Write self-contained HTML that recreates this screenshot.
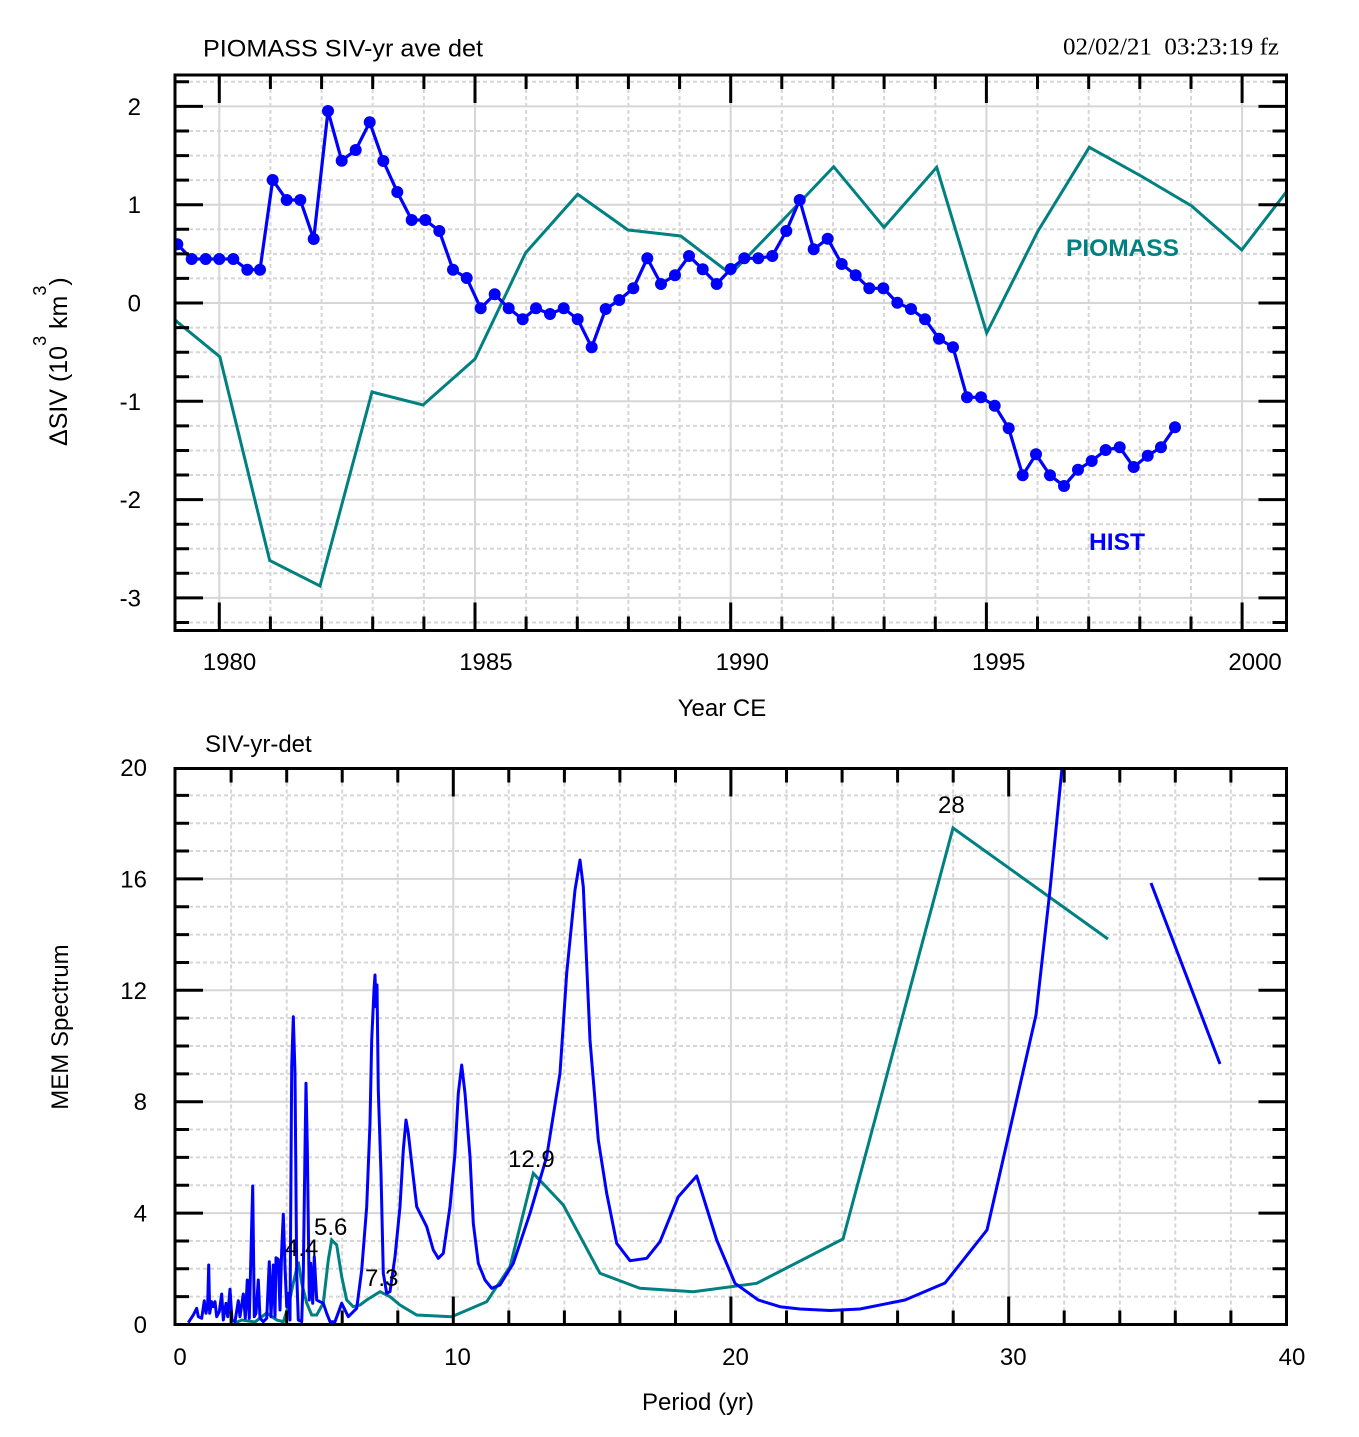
<!DOCTYPE html>
<html><head><meta charset="utf-8"><style>
html,body{margin:0;padding:0;background:#fff;}
svg{display:block;}
text{font-family:"Liberation Sans",Arial,Helvetica,sans-serif;font-size:24px;fill:#000;}
.g{stroke:#d6d6d6;stroke-width:2;fill:none;}
.gd{stroke:#d6d6d6;stroke-width:2;fill:none;stroke-dasharray:4 3;}
.tk{stroke:#000;stroke-width:3;fill:none;}
</style></head><body>
<svg width="1359" height="1437" viewBox="0 0 1359 1437" xmlns="http://www.w3.org/2000/svg">
<defs>
<clipPath id="c1"><rect x="175" y="75" width="1111.5" height="555.5"/></clipPath>
<clipPath id="c2"><rect x="175" y="768.5" width="1111.5" height="556"/></clipPath>
<marker id="dot" markerWidth="14" markerHeight="14" refX="7" refY="7" markerUnits="userSpaceOnUse"><circle cx="7" cy="7" r="6" fill="#0000ff"/></marker>
</defs>
<rect width="1359" height="1437" fill="#fff"/>

<!-- ============ TOP PLOT ============ -->
<path class="gd" d="M270.4 75V630.5M321.6 75V630.5M372.7 75V630.5M423.9 75V630.5M526.1 75V630.5M577.3 75V630.5M628.4 75V630.5M679.6 75V630.5M781.8 75V630.5M833 75V630.5M884.1 75V630.5M935.3 75V630.5M1037.5 75V630.5M1088.7 75V630.5M1139.8 75V630.5M1191 75V630.5
M175 81.8H1286.5M175 131H1286.5M175 155.6H1286.5M175 180.1H1286.5M175 229.3H1286.5M175 253.9H1286.5M175 278.4H1286.5M175 327.6H1286.5M175 352.2H1286.5M175 376.7H1286.5M175 425.9H1286.5M175 450.5H1286.5M175 475H1286.5M175 524.2H1286.5M175 548.8H1286.5M175 573.3H1286.5M175 622.5H1286.5"/>
<path class="g" d="M219.3 75V630.5M475 75V630.5M730.7 75V630.5M986.4 75V630.5M1242.1 75V630.5
M175 106.4H1286.5M175 204.7H1286.5M175 303H1286.5M175 401.3H1286.5M175 499.6H1286.5M175 597.9H1286.5"/>

<g clip-path="url(#c1)">
<polyline fill="none" stroke="#008080" stroke-width="3" stroke-linejoin="miter" points="175,320 219.8,356.7 269.7,560.5 320,586 372,392 423,405 475,359 525.5,253 577.7,194.3 628,230 680.7,236 730.7,274 782,221 833.7,166.7 884,227.3 936.7,167.3 986.7,333 1038,231 1089.3,147.3 1141,176 1191.7,206 1241.7,250 1286.5,191.7"/>
<polyline fill="none" stroke="#0000ff" stroke-width="3.2" marker-start="url(#dot)" marker-mid="url(#dot)" marker-end="url(#dot)" points="177.3,244.3 191.7,259 205.7,259 219.3,259 233.3,259 247.3,269.7 260,269.7 272.7,180 286.7,200 300.3,200 313.7,239 328,111 341.7,160.7 355.7,150 369.7,122.3 383.3,161 397.3,192 411.7,220 425.3,220 439.3,231 453,269.7 466.7,278 480.7,308.3 494.7,294.3 508.7,308.3 522.7,319.3 536,308.3 550,314 563.7,308.3 577.7,319.3 591.7,347.3 605.7,309 619.3,300 633.3,288.3 647.3,258.3 661,284 675,275.3 689,256 702.7,269.3 716.7,284 730.7,269 744.3,258.3 758.3,258.3 772.3,256 786.3,231 799.7,200 813.7,249.3 827.7,238.7 841.7,264 855.7,275.3 869.3,288.3 883.3,288.3 897.3,302.7 911,309 925,319.3 939,338.7 953,347.3 967,397.3 981,397.3 994.7,405.7 1008.7,428.3 1022.7,475.3 1036,454.3 1050,475.3 1064,486 1078,469.7 1091.7,461 1105.7,450 1119.7,447.3 1133.7,467 1147.7,455.7 1161,447.3 1175,427.3"/>
</g>

<rect x="175" y="75" width="1111.5" height="555.5" fill="none" stroke="#000" stroke-width="3"/>
<path class="tk" d="M175 106.4h28M175 204.7h28M175 303h28M175 401.3h28M175 499.6h28M175 597.9h28
M175 81.8h14M175 131h14M175 155.6h14M175 180.1h14M175 229.3h14M175 253.9h14M175 278.4h14M175 327.6h14M175 352.2h14M175 376.7h14M175 425.9h14M175 450.5h14M175 475h14M175 524.2h14M175 548.8h14M175 573.3h14M175 622.5h14
M1286.5 106.4h-28M1286.5 204.7h-28M1286.5 303h-28M1286.5 401.3h-28M1286.5 499.6h-28M1286.5 597.9h-28
M1286.5 81.8h-14M1286.5 131h-14M1286.5 155.6h-14M1286.5 180.1h-14M1286.5 229.3h-14M1286.5 253.9h-14M1286.5 278.4h-14M1286.5 327.6h-14M1286.5 352.2h-14M1286.5 376.7h-14M1286.5 425.9h-14M1286.5 450.5h-14M1286.5 475h-14M1286.5 524.2h-14M1286.5 548.8h-14M1286.5 573.3h-14M1286.5 622.5h-14
M219.3 75v28M475 75v28M730.7 75v28M986.4 75v28M1242.1 75v28
M270.4 75v14M321.6 75v14M372.7 75v14M423.9 75v14M526.1 75v14M577.3 75v14M628.4 75v14M679.6 75v14M781.8 75v14M833 75v14M884.1 75v14M935.3 75v14M1037.5 75v14M1088.7 75v14M1139.8 75v14M1191 75v14
M219.3 630.5v-28M475 630.5v-28M730.7 630.5v-28M986.4 630.5v-28M1242.1 630.5v-28
M270.4 630.5v-14M321.6 630.5v-14M372.7 630.5v-14M423.9 630.5v-14M526.1 630.5v-14M577.3 630.5v-14M628.4 630.5v-14M679.6 630.5v-14M781.8 630.5v-14M833 630.5v-14M884.1 630.5v-14M935.3 630.5v-14M1037.5 630.5v-14M1088.7 630.5v-14M1139.8 630.5v-14M1191 630.5v-14"/>

<text x="203" y="56.5" textLength="280" lengthAdjust="spacingAndGlyphs">PIOMASS SIV-yr ave det</text>
<text x="1063" y="54.5" textLength="216" lengthAdjust="spacingAndGlyphs" style="font-family:'Liberation Serif','Times New Roman',serif;white-space:pre">02/02/21  03:23:19 fz</text>
<g text-anchor="end">
<text x="141" y="114.9">2</text>
<text x="141" y="213.2">1</text>
<text x="141" y="311.5">0</text>
<text x="141" y="409.8">-1</text>
<text x="141" y="508.1">-2</text>
<text x="141" y="606.4">-3</text>
</g>
<g text-anchor="middle">
<text x="229.5" y="670">1980</text>
<text x="485.9" y="670">1985</text>
<text x="742.3" y="670">1990</text>
<text x="998.7" y="670">1995</text>
<text x="1255.1" y="670">2000</text>
<text x="722" y="716">Year CE</text>
</g>
<text transform="translate(67,446) rotate(-90)" style="font-size:25px">ΔSIV (10<tspan dy="-21" style="font-size:18px">3</tspan><tspan dy="21"> km</tspan><tspan dy="-21" style="font-size:18px">3</tspan><tspan dy="21">)</tspan></text>
<text x="1066" y="256" textLength="113" lengthAdjust="spacingAndGlyphs" style="font-weight:bold;fill:#008080">PIOMASS</text>
<text x="1089" y="550" textLength="56" lengthAdjust="spacingAndGlyphs" style="font-weight:bold;fill:#0000ff">HIST</text>

<!-- ============ BOTTOM PLOT ============ -->
<path class="gd" d="M231.1 768.5V1324.5M286.7 768.5V1324.5M342.2 768.5V1324.5M397.8 768.5V1324.5M508.8 768.5V1324.5M564.4 768.5V1324.5M619.9 768.5V1324.5M675.5 768.5V1324.5M786.5 768.5V1324.5M842.1 768.5V1324.5M897.6 768.5V1324.5M953.2 768.5V1324.5M1064.2 768.5V1324.5M1119.8 768.5V1324.5M1175.3 768.5V1324.5M1230.9 768.5V1324.5
M175 1296.65H1286.5M175 1268.8H1286.5M175 1240.95H1286.5M175 1185.25H1286.5M175 1157.4H1286.5M175 1129.55H1286.5M175 1073.85H1286.5M175 1046H1286.5M175 1018.15H1286.5M175 962.45H1286.5M175 934.6H1286.5M175 906.75H1286.5M175 851.05H1286.5M175 823.2H1286.5M175 795.35H1286.5"/>
<path class="g" d="M453.3 768.5V1324.5M730.9 768.5V1324.5M1008.7 768.5V1324.5
M175 1213.1H1286.5M175 1101.7H1286.5M175 990.3H1286.5M175 878.9H1286.5"/>

<g clip-path="url(#c2)">
<polyline fill="none" stroke="#008080" stroke-width="3" points="235,1323 241.7,1320 255,1322 266.7,1313 276.7,1320 283.3,1321.7 288.3,1306.7 293.3,1283 298.3,1261.7 301.7,1283 306.7,1303 311.7,1315 316.7,1315 323.3,1303 328.3,1260 331.7,1240 336.7,1245 341.7,1276.7 346.7,1300 353.3,1306.7 360,1305 366.7,1300 380,1291.7 390,1296.7 400,1305 416.7,1315 451.7,1316.7 486.7,1301.7 510,1266.7 533.3,1173.3 563.3,1205 600,1273.3 640,1288.3 693.3,1291.7 756.7,1283.3 843,1239 953,828 1108,939"/>
<polyline fill="none" stroke="#0000ff" stroke-width="3" stroke-linejoin="round" points="188.3,1322.7 190,1320 193.3,1315 196.7,1308.3 198.3,1316.7 201.7,1318.3 204.3,1300.7 206,1313.3 207.7,1303.3 208.7,1265 209.7,1313.3 211.7,1301.7 213.3,1306.7 215,1301.7 216.7,1316.7 219.3,1311.7 221.7,1294 223.3,1320 226,1303.3 227.7,1316.7 230,1289.3 232,1320 235,1321.7 238.3,1300.7 240,1316.7 243.3,1294 245.3,1318.3 247.3,1280 249.3,1318.3 252.7,1186 254.3,1316.7 256,1313.3 258.3,1280 260,1318.3 263.3,1321.7 266.7,1318.3 269.3,1261.7 271,1316.7 273.3,1265 275,1316.7 276,1257.7 278.3,1259.3 280,1310 281.7,1250 283.3,1214.3 285,1266.7 286.7,1306.7 288.3,1293.3 290,1320 291.7,1066.7 293.3,1016.7 295,1073.3 296.7,1273.3 298.3,1320 301.7,1321.7 303.3,1273.3 305,1150 306,1083.3 307.3,1146.7 309.3,1300 310.7,1263.3 312.7,1303.3 314.3,1256.7 316.7,1300 320,1301.7 323.3,1303.3 326.7,1313.3 330,1321.7 335,1321.7 341.7,1303.3 348.3,1316.7 356.7,1308.3 361.7,1270 366.7,1206.7 370,1123.3 371.7,1040 374,990 375,975 376,1006.7 377,985 378.3,1090 381,1173 383.3,1273.3 386.7,1293.3 390,1291.7 395,1256.7 400,1206.7 403.3,1150 406,1120 408.3,1133.3 411.7,1163.3 416.7,1206.7 426.7,1226.7 433.3,1250 438.3,1258.3 443.3,1253.3 450,1206.7 455,1153.3 458.3,1093.3 461.7,1065 465,1093.3 470,1156.7 473.3,1223.3 478.3,1263.3 485,1280 491.7,1288.3 500,1285 513.3,1263.3 530,1213.3 546.7,1156.7 560,1073.3 566.7,973.3 575,890 580,860 583.3,886.7 590,1040 598.3,1140 606.7,1193.3 616.7,1243.3 630,1260.7 646.7,1258.3 660,1241.7 678.3,1196.7 696.7,1176 716.7,1240 735,1283.3 758.3,1300 780,1306.7 800,1309 830,1310.5 860,1309 905,1300 945,1283 987,1230 1036,1015 1050,890 1062,768"/>
<polyline fill="none" stroke="#0000ff" stroke-width="3" points="1151,883 1220,1064"/>
</g>

<rect x="175" y="768.5" width="1111.5" height="556" fill="none" stroke="#000" stroke-width="3"/>
<path class="tk" d="M175 1213.1h28M175 1101.7h28M175 990.3h28M175 878.9h28
M175 1296.65h14M175 1268.8h14M175 1240.95h14M175 1185.25h14M175 1157.4h14M175 1129.55h14M175 1073.85h14M175 1046h14M175 1018.15h14M175 962.45h14M175 934.6h14M175 906.75h14M175 851.05h14M175 823.2h14M175 795.35h14
M1286.5 1213.1h-28M1286.5 1101.7h-28M1286.5 990.3h-28M1286.5 878.9h-28
M1286.5 1296.65h-14M1286.5 1268.8h-14M1286.5 1240.95h-14M1286.5 1185.25h-14M1286.5 1157.4h-14M1286.5 1129.55h-14M1286.5 1073.85h-14M1286.5 1046h-14M1286.5 1018.15h-14M1286.5 962.45h-14M1286.5 934.6h-14M1286.5 906.75h-14M1286.5 851.05h-14M1286.5 823.2h-14M1286.5 795.35h-14
M453.3 1324.5v-28M730.9 1324.5v-28M1008.7 1324.5v-28
M231.1 1324.5v-14M286.7 1324.5v-14M342.2 1324.5v-14M397.8 1324.5v-14M508.8 1324.5v-14M564.4 1324.5v-14M619.9 1324.5v-14M675.5 1324.5v-14M786.5 1324.5v-14M842.1 1324.5v-14M897.6 1324.5v-14M953.2 1324.5v-14M1064.2 1324.5v-14M1119.8 1324.5v-14M1175.3 1324.5v-14M1230.9 1324.5v-14
M453.3 768.5v28M730.9 768.5v28M1008.7 768.5v28
M231.1 768.5v14M286.7 768.5v14M342.2 768.5v14M397.8 768.5v14M508.8 768.5v14M564.4 768.5v14M619.9 768.5v14M675.5 768.5v14M786.5 768.5v14M842.1 768.5v14M897.6 768.5v14M953.2 768.5v14M1064.2 768.5v14M1119.8 768.5v14M1175.3 768.5v14M1230.9 768.5v14"/>

<text x="205" y="752">SIV-yr-det</text>
<g text-anchor="end">
<text x="147" y="776">20</text>
<text x="147" y="887.4">16</text>
<text x="147" y="998.8">12</text>
<text x="147" y="1110.2">8</text>
<text x="147" y="1221.6">4</text>
<text x="147" y="1333">0</text>
</g>
<g text-anchor="middle">
<text x="180" y="1365">0</text>
<text x="457.5" y="1365">10</text>
<text x="735.5" y="1365">20</text>
<text x="1013.2" y="1365">30</text>
<text x="1292" y="1365">40</text>
<text x="698" y="1410">Period (yr)</text>
<text transform="translate(68,1027) rotate(-90)">MEM Spectrum</text>
</g>
<text x="285" y="1256">4.4</text>
<text x="314" y="1235">5.6</text>
<text x="365" y="1286">7.3</text>
<text x="508" y="1167">12.9</text>
<text x="938" y="813">28</text>
</svg>
</body></html>
